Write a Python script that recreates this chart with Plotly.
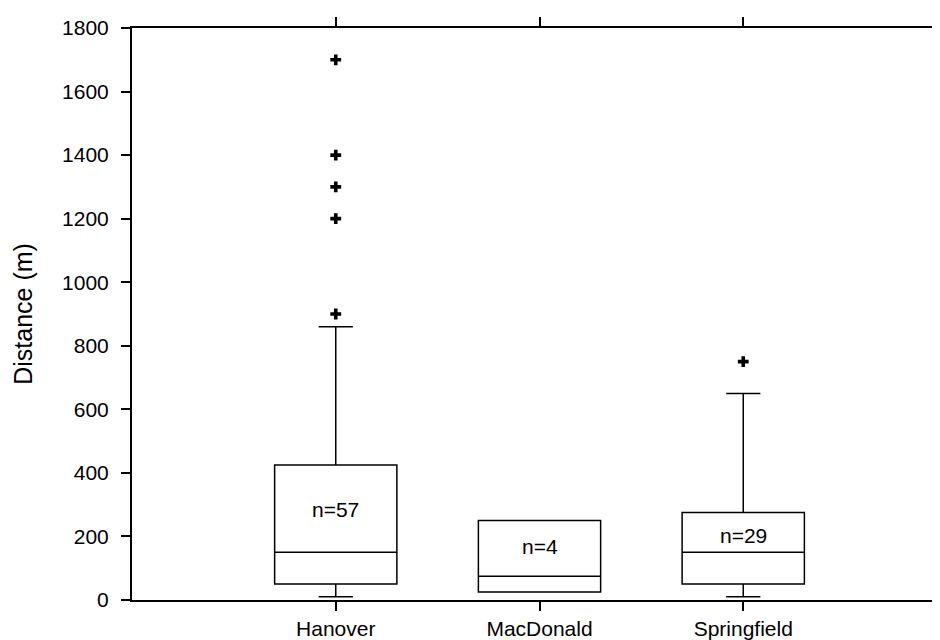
import plotly.graph_objects as go

# ---- data ----
sites = ["Hanover", "MacDonald", "Springfield"]
q1 = [50, 25, 50]
median = [150, 75, 150]
q3 = [425, 250, 275]
lower_whisker = [10, 25, 10]
upper_whisker = [860, 250, 650]
outliers_hanover = [900, 1200, 1300, 1400, 1700]
outliers_springfield = [750]
n_counts = [57, 4, 29]
label_y = [285, 167, 202]

y_ticks = [0, 200, 400, 600, 800, 1000, 1200, 1400, 1600, 1800]

FONT = "Liberation Sans, Arial, sans-serif"

fig = go.Figure()

fig.add_trace(go.Box(
    x=sites,
    q1=q1, median=median, q3=q3,
    lowerfence=lower_whisker, upperfence=upper_whisker,
    boxpoints=False,
    width=0.6,
    whiskerwidth=0.28,
    fillcolor="rgba(0,0,0,0)",
    line=dict(color="black", width=1.5),
    showlegend=False,
    hoverinfo="skip",
))

fig.add_trace(go.Scatter(
    x=[sites[0]] * len(outliers_hanover) + [sites[2]] * len(outliers_springfield),
    y=outliers_hanover + outliers_springfield,
    mode="markers",
    marker=dict(symbol="cross", size=9, color="black"),
    showlegend=False,
))

for s, n, ly in zip(sites, n_counts, label_y):
    fig.add_annotation(x=s, y=ly, text=f"n={n}", showarrow=False,
                       font=dict(family=FONT, size=21, color="black"),
                       xanchor="center", yanchor="middle")

fig.add_shape(type="line", xref="paper", yref="paper", x0=1, x1=1, y0=0, y1=1,
              line=dict(color="#777777", width=1))

fig.update_layout(
    width=940, height=640,
    margin=dict(l=124, r=1, t=20, b=48, autoexpand=False),
    paper_bgcolor="white", plot_bgcolor="white",
    font=dict(family=FONT, size=21, color="black"),
    xaxis=dict(
        type="category", categoryorder="array", categoryarray=sites,
        range=[-1, 3],
        showline=True, linecolor="black", linewidth=2,
        ticks="outside", ticklen=9, tickwidth=1.5, tickcolor="black",
        mirror="ticks", showgrid=False, zeroline=False,
        ticklabelstandoff=0, automargin=False,
    ),
    yaxis=dict(
        range=[0, 1800], tickvals=y_ticks,
        title=dict(text="Distance (m)", standoff=22),
        showline=True, linecolor="black", linewidth=2,
        ticks="outside", ticklen=9, tickwidth=1.5, tickcolor="black",
        showgrid=False, zeroline=False,
        ticklabelstandoff=8, automargin=False,
    ),
)

fig.write_html("out.html")
